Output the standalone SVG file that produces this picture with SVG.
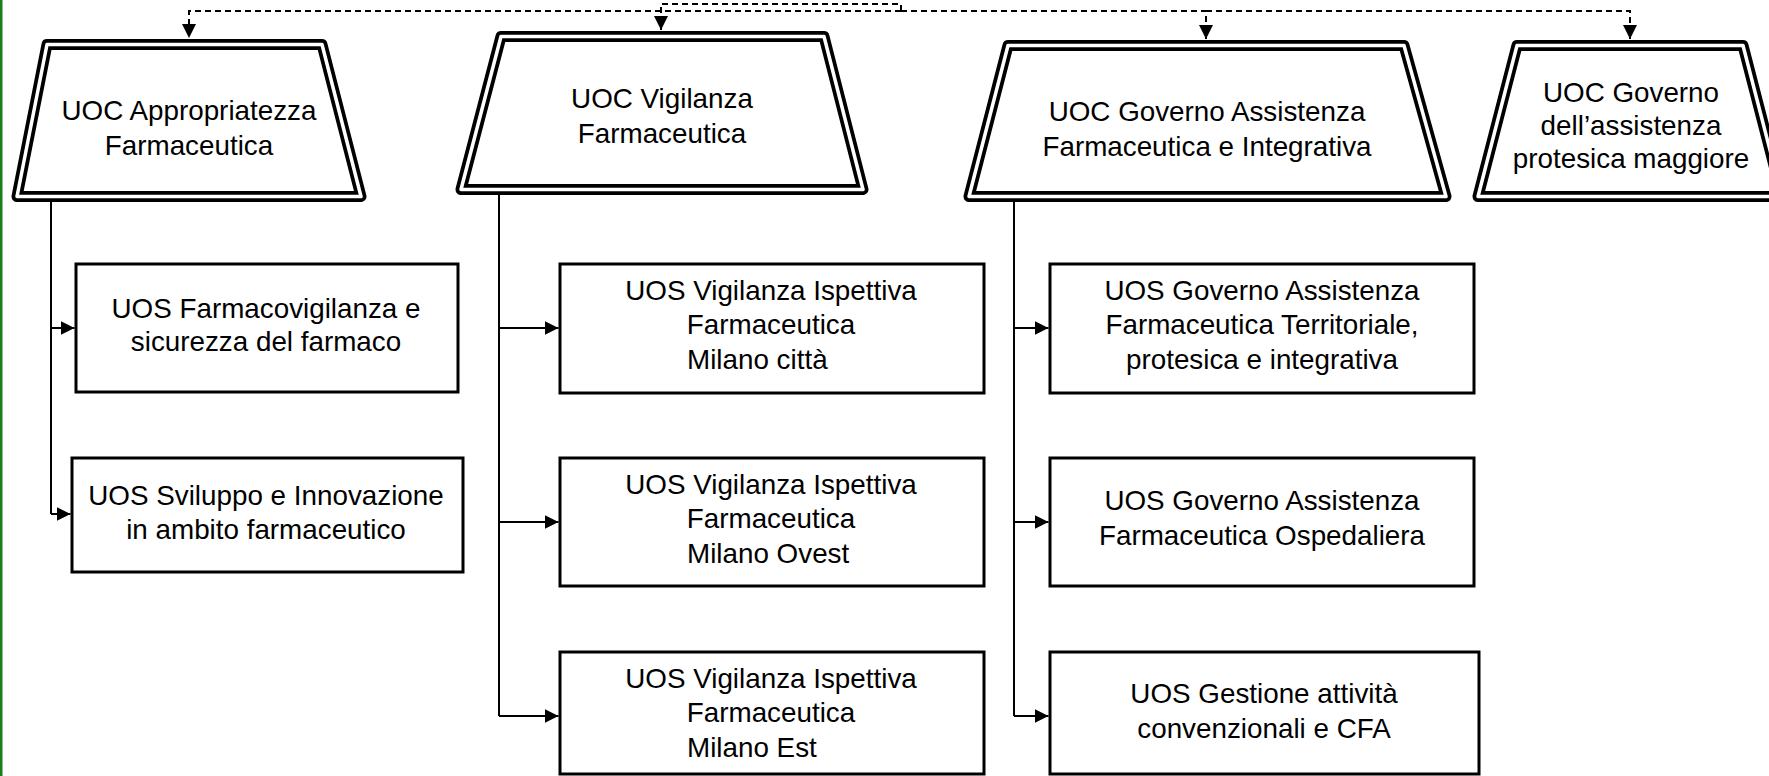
<svg xmlns="http://www.w3.org/2000/svg" width="1769" height="776" viewBox="0 0 1769 776">
<style>
.t{font-family:"Liberation Sans",Arial,sans-serif;font-size:27.8px;fill:#000;text-anchor:middle}
.ts{text-anchor:start}
.box{fill:#fff;stroke:#000;stroke-width:3}
.trO{fill:#fff;stroke:#000;stroke-width:11;stroke-linejoin:round}
.trI{fill:none;stroke:#fff;stroke-width:3.5;stroke-linejoin:round}
.c{fill:none;stroke:#000;stroke-width:2}
.d{fill:none;stroke:#000;stroke-width:2;stroke-dasharray:6 4}
</style>
<defs>
<marker id="a" markerUnits="userSpaceOnUse" markerWidth="14" markerHeight="14" refX="14" refY="7" orient="auto"><path d="M0,0L14,7L0,14z" fill="#000"/></marker>
</defs>
<rect x="0" y="0" width="2.5" height="776" fill="#1a7f1a"/>
<g id="connectors">
<path class="d" d="M901,11H189V38" marker-end="url(#a)"/>
<path class="d" d="M901,11H1206V39" marker-end="url(#a)"/>
<path class="d" d="M1206,11H1630V39" marker-end="url(#a)"/>
<path class="d" d="M901,11V4H661V30" marker-end="url(#a)"/>
<path class="c" d="M51,197V514"/>
<path class="c" d="M51,328H74.5" marker-end="url(#a)"/>
<path class="c" d="M51,514H70.5" marker-end="url(#a)"/>
<path class="c" d="M499,190V716"/>
<path class="c" d="M499,328H558.5" marker-end="url(#a)"/>
<path class="c" d="M499,522H558.5" marker-end="url(#a)"/>
<path class="c" d="M499,716H558.5" marker-end="url(#a)"/>
<path class="c" d="M1014,197V716"/>
<path class="c" d="M1014,328H1048.5" marker-end="url(#a)"/>
<path class="c" d="M1014,522H1048.5" marker-end="url(#a)"/>
<path class="c" d="M1014,716H1048.5" marker-end="url(#a)"/>
</g>
<g id="uoc-appropriatezza">
<path class="trO" d="M47,44.5H322L361,196.5H17Z"/><path class="trI" d="M47,44.5H322L361,196.5H17Z"/>
<text class="t" x="189" y="120">UOC Appropriatezza</text>
<text class="t" x="189" y="155">Farmaceutica</text>
</g>
<g id="uoc-vigilanza">
<path class="trO" d="M501,36.5H824L863,189.5H461Z"/><path class="trI" d="M501,36.5H824L863,189.5H461Z"/>
<text class="t" x="662" y="108">UOC Vigilanza</text>
<text class="t" x="662" y="143">Farmaceutica</text>
</g>
<g id="uoc-governo-assistenza">
<path class="trO" d="M1008,45.5H1404L1446,196.5H969Z"/><path class="trI" d="M1008,45.5H1404L1446,196.5H969Z"/>
<text class="t" x="1207" y="121">UOC Governo Assistenza</text>
<text class="t" x="1207" y="156">Farmaceutica e Integrativa</text>
</g>
<g id="uoc-governo-protesica">
<path class="trO" d="M1517,45.5H1743L1782,196.5H1478Z"/><path class="trI" d="M1517,45.5H1743L1782,196.5H1478Z"/>
<text class="t" x="1631" y="102">UOC Governo</text>
<text class="t" x="1631" y="135">dell’assistenza</text>
<text class="t" x="1631" y="168">protesica maggiore</text>
</g>
<g id="uos-farmacovigilanza">
<rect class="box" x="76" y="264" width="382" height="128"/>
<text class="t" x="266" y="318">UOS Farmacovigilanza e</text>
<text class="t" x="266" y="351">sicurezza del farmaco</text>
</g>
<g id="uos-sviluppo">
<rect class="box" x="72" y="458" width="391" height="114"/>
<text class="t" x="266" y="505">UOS Sviluppo e Innovazione</text>
<text class="t" x="266" y="539">in ambito farmaceutico</text>
</g>
<g id="uos-vigilanza-citta">
<rect class="box" x="560" y="264" width="424" height="129"/>
<text class="t" x="771" y="300">UOS Vigilanza Ispettiva</text>
<text class="t" x="771" y="334">Farmaceutica</text>
<text class="t ts" x="687" y="369">Milano città</text>
</g>
<g id="uos-vigilanza-ovest">
<rect class="box" x="560" y="458" width="424" height="128"/>
<text class="t" x="771" y="494">UOS Vigilanza Ispettiva</text>
<text class="t" x="771" y="528">Farmaceutica</text>
<text class="t ts" x="687" y="563">Milano Ovest</text>
</g>
<g id="uos-vigilanza-est">
<rect class="box" x="560" y="652" width="424" height="122"/>
<text class="t" x="771" y="688">UOS Vigilanza Ispettiva</text>
<text class="t" x="771" y="722">Farmaceutica</text>
<text class="t ts" x="687" y="757">Milano Est</text>
</g>
<g id="uos-governo-territoriale">
<rect class="box" x="1050" y="264" width="424" height="129"/>
<text class="t" x="1262" y="300">UOS Governo Assistenza</text>
<text class="t" x="1262" y="334">Farmaceutica Territoriale,</text>
<text class="t" x="1262" y="369">protesica e integrativa</text>
</g>
<g id="uos-governo-ospedaliera">
<rect class="box" x="1050" y="458" width="424" height="128"/>
<text class="t" x="1262" y="510">UOS Governo Assistenza</text>
<text class="t" x="1262" y="545">Farmaceutica Ospedaliera</text>
</g>
<g id="uos-gestione-cfa">
<rect class="box" x="1050" y="652" width="429" height="122"/>
<text class="t" x="1264" y="703">UOS Gestione attività</text>
<text class="t" x="1264" y="738">convenzionali e CFA</text>
</g>
</svg>
